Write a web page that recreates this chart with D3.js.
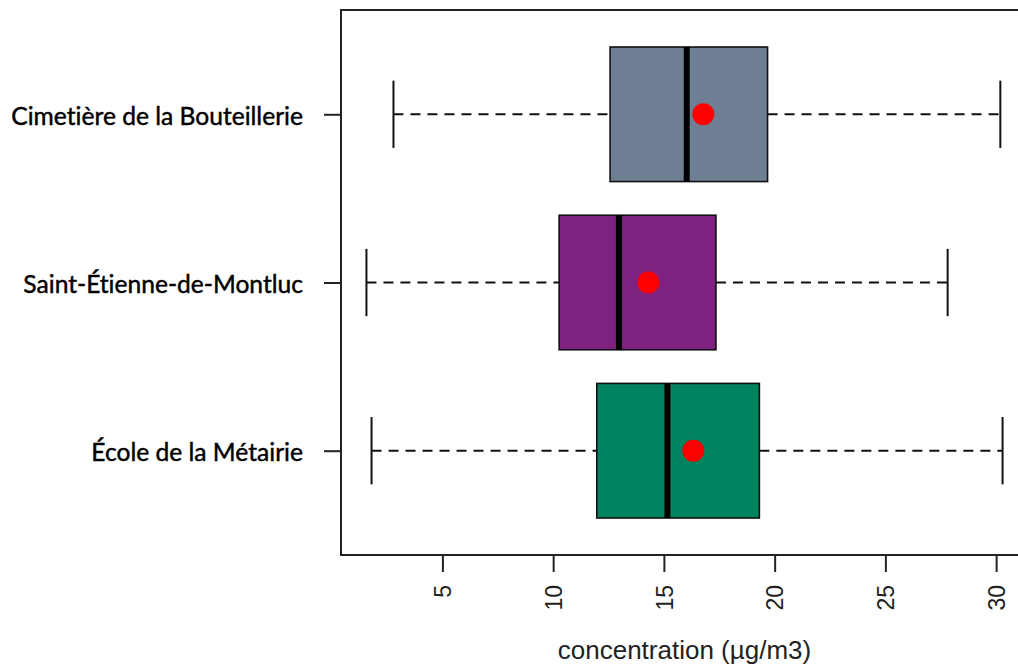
<!DOCTYPE html>
<html>
<head>
<meta charset="utf-8">
<script src="https://cdn.jsdelivr.net/npm/d3@7"></script>
<style>
  html, body { margin: 0; padding: 0; background: #fff; }
  svg { display: block; }
</style>
</head>
<body>
<svg id="chart" width="1018" height="666"></svg>
<script>
// ---- data (top to bottom) ----
const categories = ["Cimetière de la Bouteillerie", "Saint-Étienne-de-Montluc", "École de la Métairie"];
const whiskerLow = [2.79, 1.57, 1.80];
const q1 = [12.57, 10.27, 11.97];
const median = [16.03, 12.97, 15.16];
const q3 = [19.68, 17.35, 19.31];
const whiskerHigh = [30.19, 27.81, 30.29];
const means = [16.78, 14.30, 16.33];
const fills = ["#6E7F93", "#7E2280", "#00845F"];
const xTicks = [5, 10, 15, 20, 25, 30];
const xTitle = "concentration (µg/m3)";

// ---- layout ----
const W = 1018, H = 666;
const plotLeft = 341, plotRight = 1028, plotTop = 10, plotBottom = 555;

const svg = d3.select("#chart");
const n = categories.length;

// R-style 4% extension of the data range
const lo = d3.min(whiskerLow), hi = d3.max(whiskerHigh);
const ext = (hi - lo) * 0.04;
const x = d3.scaleLinear().domain([lo - ext, hi + ext]).range([plotLeft, plotRight]);
const yExt = n * 0.04;
const y = d3.scaleLinear().domain([0.5 - yExt, n + 0.5 + yExt]).range([plotBottom, plotTop]);

const data = categories.map((c, i) => ({
  name: c, pos: n - i, lo: whiskerLow[i], q1: q1[i], med: median[i],
  q3: q3[i], hi: whiskerHigh[i], mean: means[i], fill: fills[i]
}));

const boxHalf = 0.4, capHalf = 0.2;
const g = svg.append("g");

// whiskers (dashed)
g.selectAll("line.wl").data(data).join("line")
  .attr("x1", d => x(d.lo)).attr("x2", d => x(d.q1))
  .attr("y1", d => y(d.pos)).attr("y2", d => y(d.pos))
  .attr("stroke", "#111").attr("stroke-width", 2).attr("stroke-dasharray", "10,7");
g.selectAll("line.wh").data(data).join("line")
  .attr("x1", d => x(d.q3)).attr("x2", d => x(d.hi))
  .attr("y1", d => y(d.pos)).attr("y2", d => y(d.pos))
  .attr("stroke", "#111").attr("stroke-width", 2).attr("stroke-dasharray", "10,7");
// caps
g.selectAll("line.cl").data(data).join("line")
  .attr("x1", d => x(d.lo)).attr("x2", d => x(d.lo))
  .attr("y1", d => y(d.pos + capHalf)).attr("y2", d => y(d.pos - capHalf))
  .attr("stroke", "#111").attr("stroke-width", 2);
g.selectAll("line.ch").data(data).join("line")
  .attr("x1", d => x(d.hi)).attr("x2", d => x(d.hi))
  .attr("y1", d => y(d.pos + capHalf)).attr("y2", d => y(d.pos - capHalf))
  .attr("stroke", "#111").attr("stroke-width", 2);
// boxes
g.selectAll("rect.box").data(data).join("rect")
  .attr("x", d => x(d.q1)).attr("width", d => x(d.q3) - x(d.q1))
  .attr("y", d => y(d.pos + boxHalf)).attr("height", d => y(d.pos - boxHalf) - y(d.pos + boxHalf))
  .attr("fill", d => d.fill).attr("stroke", "#111").attr("stroke-width", 1.6);
// medians
g.selectAll("line.med").data(data).join("line")
  .attr("x1", d => x(d.med)).attr("x2", d => x(d.med))
  .attr("y1", d => y(d.pos + boxHalf)).attr("y2", d => y(d.pos - boxHalf))
  .attr("stroke", "#000").attr("stroke-width", 6);
// means
g.selectAll("circle.mean").data(data).join("circle")
  .attr("cx", d => x(d.mean)).attr("cy", d => y(d.pos)).attr("r", 11)
  .attr("fill", "#ff0000");

// plot frame
svg.append("rect")
  .attr("x", plotLeft).attr("y", plotTop)
  .attr("width", plotRight - plotLeft).attr("height", plotBottom - plotTop)
  .attr("fill", "none").attr("stroke", "#222").attr("stroke-width", 2);

// x axis
const xAxis = svg.append("g").attr("transform", `translate(0,${plotBottom})`)
  .call(d3.axisBottom(x).tickValues(xTicks).tickSize(17).tickFormat(d3.format("d")));
xAxis.select(".domain").remove();
xAxis.selectAll(".tick line").attr("stroke", "#222").attr("stroke-width", 2);
xAxis.selectAll(".tick text")
  .attr("font-family", "'Liberation Sans', Arial, sans-serif")
  .attr("font-size", 23).attr("fill", "#222")
  .attr("transform", "rotate(-90)")
  .attr("text-anchor", "end").attr("x", -30).attr("y", 0).attr("dy", "0.36em");

// y axis (category labels)
const yAxis = svg.append("g").attr("transform", `translate(${plotLeft},0)`)
  .call(d3.axisLeft(y).tickValues(data.map(d => d.pos)).tickSize(17)
    .tickFormat(v => data.find(d => d.pos === v).name));
yAxis.select(".domain").remove();
yAxis.selectAll(".tick line").attr("stroke", "#222").attr("stroke-width", 2);
yAxis.selectAll(".tick text")
  .attr("font-family", "Lato, 'Noto Sans', sans-serif")
  .attr("font-size", 24.6).attr("font-weight", 400).attr("fill", "#000")
  .attr("stroke", "#000").attr("stroke-width", 0.45)
  .style("font-variant-ligatures", "none")
  .attr("x", -38).attr("dy", "0.4em");

// x title
svg.append("text")
  .attr("x", (plotLeft + plotRight) / 2).attr("y", 659)
  .attr("text-anchor", "middle")
  .attr("font-family", "'Liberation Sans', Arial, sans-serif")
  .attr("font-size", 26).attr("fill", "#222")
  .text(xTitle);
</script>
</body>
</html>
